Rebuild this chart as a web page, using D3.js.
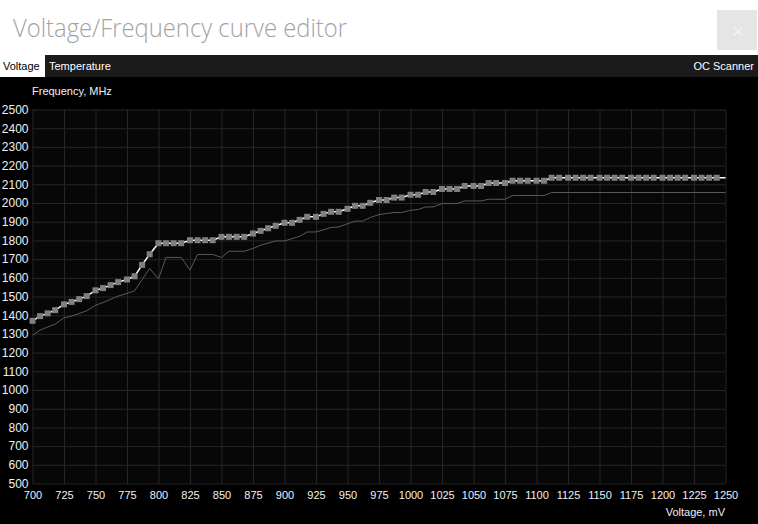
<!DOCTYPE html>
<html lang="en">
<head>
<meta charset="UTF-8">
<title>Voltage/Frequency curve editor</title>
<script src="https://d3js.org/d3.v7.min.js"></script>
<style>
    body { margin: 0; background: #000; }
    text { font-family: 'Liberation Sans', Arial, sans-serif; }
</style>
</head>
<body>
<script>
    // curve points (mV) and their clocks (MHz)
    const voltages = [
        700, 706, 712, 718, 725, 731, 737, 743,
        750, 756, 762, 768, 775, 781, 787, 793,
        800, 806, 812, 818, 825, 831, 837, 843,
        850, 856, 862, 868, 875, 881, 887, 893,
        900, 906, 912, 918, 925, 931, 937, 943,
        950, 956, 962, 968, 975, 981, 987, 993,
        1000, 1006, 1012, 1018, 1025, 1031, 1037, 1043,
        1050, 1056, 1062, 1068, 1075, 1081, 1087, 1093,
        1100, 1106, 1112, 1118, 1125, 1131, 1137, 1143,
        1150, 1156, 1162, 1168, 1175, 1181, 1187, 1193,
        1200, 1206, 1212, 1218, 1225, 1231, 1237, 1243
    ];
    const curveFreq = [
        1370, 1395, 1410, 1427, 1458, 1471, 1486, 1502,
        1533, 1545, 1561, 1577, 1591, 1608, 1669, 1726,
        1785, 1785, 1785, 1785, 1801, 1801, 1801, 1801,
        1819, 1819, 1819, 1819, 1837, 1851, 1865, 1878,
        1894, 1894, 1910, 1926, 1926, 1942, 1953, 1953,
        1969, 1985, 1985, 2001, 2016, 2016, 2029, 2029,
        2044, 2044, 2059, 2059, 2075, 2075, 2075, 2091,
        2091, 2091, 2107, 2107, 2107, 2119, 2119, 2119,
        2119, 2119, 2135, 2135, 2135, 2135, 2135, 2135,
        2135, 2135, 2135, 2135, 2135, 2135, 2135, 2135,
        2135, 2135, 2135, 2135, 2135, 2135, 2135, 2135
    ];

    // default (stock) curve, thin grey line
    const baseVolt = [
        700, 706, 712, 718, 725, 731, 743, 750, 756, 768, 781, 787, 793,
        800, 806, 818, 825, 831, 843, 850, 856, 868, 875, 881, 893, 900,
        912, 918, 925, 937, 943, 956, 962, 968, 975, 981, 987, 993, 1000,
        1006, 1012, 1018, 1025, 1037, 1043, 1056, 1062, 1075, 1081, 1106,
        1112, 1250
    ];
    const baseFreq = [
        1293, 1320, 1337, 1352, 1386, 1395, 1423, 1453, 1468, 1502, 1530, 1590, 1650,
        1595, 1709, 1709, 1642, 1725, 1725, 1709, 1742, 1742, 1757, 1774, 1797, 1797,
        1822, 1845, 1845, 1869, 1872, 1903, 1903, 1922, 1938, 1944, 1949, 1949, 1961,
        1965, 1979, 1979, 1997, 1997, 2011, 2011, 2020, 2020, 2040, 2040,
        2056, 2056
    ];

    const xTicks = [700, 725, 750, 775, 800, 825, 850, 875, 900, 925, 950, 975,
                    1000, 1025, 1050, 1075, 1100, 1125, 1150, 1175, 1200, 1225, 1250];
    const yTicks = [500, 600, 700, 800, 900, 1000, 1100, 1200, 1300, 1400, 1500,
                    1600, 1700, 1800, 1900, 2000, 2100, 2200, 2300, 2400, 2500];

    const width = 758;
    const height = 524;
    const plotL = 32.5, plotR = 725.5, plotT = 109.5, plotB = 483.5;

    const svg = d3.select("body").append("svg")
        .attr("width", width)
        .attr("height", height);

    // window chrome
    svg.append("rect").attr("width", width).attr("height", 55).attr("fill", "#fff");
    svg.append("text")
        .attr("x", 13).attr("y", 37)
        .attr("textLength", 334).attr("lengthAdjust", "spacingAndGlyphs")
        .style("font-family", "'Open Sans', sans-serif")
        .style("font-weight", 300)
        .style("font-size", "25px")
        .style("fill", "#a3a3a3")
        .text("Voltage/Frequency curve editor");

    svg.append("rect").attr("x", 717).attr("y", 10).attr("width", 40).attr("height", 40)
        .attr("fill", "#e5e5e5");
    svg.append("path")
        .attr("d", "M733.5,27.5L742.5,35.5M742.5,27.5L733.5,35.5")
        .attr("stroke", "#fff").attr("stroke-width", 1);

    svg.append("rect").attr("y", 55).attr("width", width).attr("height", 22).attr("fill", "#1b1b1b");
    svg.append("rect").attr("y", 55).attr("width", 45).attr("height", 22).attr("fill", "#fff");

    const tabs = svg.append("g").style("font-size", "11px");
    tabs.append("text").attr("x", 3).attr("y", 70).style("fill", "#000").text("Voltage");
    tabs.append("text").attr("x", 49).attr("y", 70).style("fill", "#fff").text("Temperature");
    tabs.append("text").attr("x", 754).attr("y", 70).attr("text-anchor", "end")
        .style("fill", "#fff").text("OC Scanner");

    // plot
    const x = d3.scaleLinear().domain([700, 1250]).range([plotL, plotR]);
    const y = d3.scaleLinear().domain([500, 2500]).range([plotB, plotT]);

    svg.append("rect")
        .attr("x", plotL).attr("y", plotT)
        .attr("width", plotR - plotL).attr("height", plotB - plotT)
        .attr("fill", "#070707");

    const yAxis = svg.append("g")
        .attr("transform", `translate(${plotL},0)`)
        .call(d3.axisLeft(y).tickValues(yTicks).tickFormat(d => d)
            .tickSize(-(plotR - plotL)).tickPadding(4));

    const xAxis = svg.append("g")
        .attr("transform", `translate(0,${plotB})`)
        .call(d3.axisBottom(x).tickValues(xTicks).tickFormat(d => d)
            .tickSize(-(plotB - plotT)).tickPadding(8));

    [yAxis, xAxis].forEach(g => {
        g.select(".domain").remove();
        g.selectAll(".tick line").attr("stroke", "#262626");
        g.selectAll(".tick text").attr("fill", "#f0f0f4")
            .style("font-family", "'Liberation Sans', Arial, sans-serif");
    });
    yAxis.selectAll(".tick text").style("font-size", "12px");
    xAxis.selectAll(".tick text").style("font-size", "11px");

    svg.append("text")
        .attr("x", 32).attr("y", 95)
        .style("font-size", "11px").style("fill", "#f0f0f4")
        .text("Frequency, MHz");
    svg.append("text")
        .attr("x", 725).attr("y", 516).attr("text-anchor", "end")
        .style("font-size", "11px").style("fill", "#f0f0f4")
        .text("Voltage, mV");

    const line = d3.line().x(d => x(d[0])).y(d => y(d[1]));

    const baseData = baseVolt.map((v, i) => [v, baseFreq[i]]);
    svg.append("path")
        .datum(baseData)
        .attr("d", line)
        .attr("fill", "none")
        .attr("stroke", "#5a5a5a")
        .attr("stroke-width", 1);

    const curveData = voltages.map((v, i) => [v, curveFreq[i]]);
    // the edited curve runs on flat to the end of the axis
    svg.append("path")
        .datum(curveData.concat([[x.domain()[1], curveFreq[curveFreq.length - 1]]]))
        .attr("d", line)
        .attr("fill", "none")
        .attr("stroke", "#fff")
        .attr("stroke-width", 1.5);

    svg.append("g")
        .selectAll("rect")
        .data(curveData)
        .join("rect")
        .attr("x", d => x(d[0]) - 3)
        .attr("y", d => y(d[1]) - 3)
        .attr("width", 6)
        .attr("height", 6)
        .attr("fill", "#808080");
</script>
</body>
</html>
